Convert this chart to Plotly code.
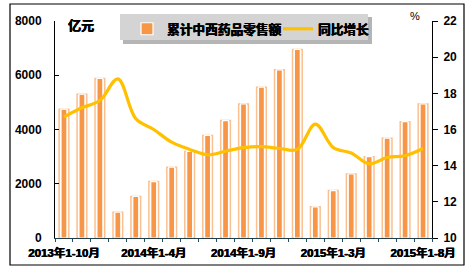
import plotly.graph_objects as go

categories = [
    "2013年1-10月", "2013年1-11月", "2013年1-12月",
    "2014年1-2月", "2014年1-3月", "2014年1-4月", "2014年1-5月", "2014年1-6月",
    "2014年1-7月", "2014年1-8月", "2014年1-9月", "2014年1-10月", "2014年1-11月",
    "2014年1-12月",
    "2015年1-2月", "2015年1-3月", "2015年1-4月", "2015年1-5月", "2015年1-6月",
    "2015年1-7月", "2015年1-8月",
]
retail_sales = [4750, 5300, 5880, 950, 1530, 2080, 2610, 3190, 3780, 4330, 4940,
                5560, 6200, 6950, 1150, 1750, 2360, 3000, 3680, 4290, 4940]
yoy_growth = [16.7, 17.2, 17.6, 18.8, 16.6, 16.0, 15.3, 14.9, 14.6, 14.8, 15.0,
              15.05, 14.95, 14.9, 16.3, 15.0, 14.7, 14.1, 14.45, 14.55, 14.95]
shown_labels = ["2013年1-10月", "2014年1-4月", "2014年1-9月", "2015年1-3月", "2015年1-8月"]
left_ticks = [0, 2000, 4000, 6000, 8000]
right_ticks = [10, 12, 14, 16, 18, 20, 22]

FONT = "Liberation Sans, Arial, Noto Sans CJK SC, sans-serif"
BOLD_SHADOW = "0.45px 0 0 black, -0.2px 0 0 black"
W, H = 474, 274
ML, MR, MT, MB = 55, 42, 21, 36
PW, PH = W - ML - MR, H - MT - MB


def px(x):
    return (x - ML) / PW


def py(y):
    return (H - MB - y) / PH


fig = go.Figure()
fig.add_trace(go.Bar(
    x=categories, y=retail_sales, width=0.54, showlegend=False,
    marker=dict(color="white", line=dict(color="#FAC090", width=1.5)),
    hoverinfo="skip",
))
fig.add_trace(go.Bar(
    x=categories, y=retail_sales, width=0.33, name="累计中西药品零售额",
    marker=dict(color="#F79646", line=dict(color="white", width=1.2)),
))
fig.add_trace(go.Scatter(
    x=categories, y=yoy_growth, yaxis="y2", mode="lines", name="同比增长",
    line=dict(color="#FFC000", width=3.2, shape="spline", smoothing=1.0),
))

ticktext = [c if c in shown_labels else "" for c in categories]

fig.update_layout(
    width=W, height=H,
    margin=dict(l=ML, r=MR, t=MT, b=MB),
    paper_bgcolor="white", plot_bgcolor="white",
    barmode="overlay",
    font=dict(family=FONT, size=12, color="black"),
    xaxis=dict(
        type="category", tickmode="array", tickvals=categories, ticktext=ticktext,
        tickson="boundaries", ticks="outside", ticklen=3, tickcolor="#1F4E5C",
        showline=True, linecolor="#1F3F4C", linewidth=1, showgrid=False,
        tickangle=0, ticklabelstandoff=4,
        tickfont=dict(family=FONT, size=11.5, weight="bold", shadow=BOLD_SHADOW),
    ),
    yaxis=dict(
        range=[0, 8000], tickmode="array", tickvals=left_ticks,
        ticks="inside", ticklen=4, tickcolor="black",
        showline=True, linecolor="black", linewidth=1, showgrid=False, zeroline=False,
        ticklabelstandoff=10,
        tickfont=dict(family=FONT, size=12, weight="bold"),
    ),
    yaxis2=dict(
        range=[10, 22], tickmode="array", tickvals=right_ticks, overlaying="y", side="right",
        ticks="outside", ticklen=5, tickcolor="black",
        showline=True, linecolor="black", linewidth=1, showgrid=False, zeroline=False,
        ticklabelstandoff=3,
        tickfont=dict(family=FONT, size=12, weight="bold"),
    ),
    legend=dict(
        orientation="h", x=px(127), y=py(14), xanchor="left", yanchor="top",
        bgcolor="rgba(0,0,0,0)", borderwidth=0,
        font=dict(family=FONT, size=12.7, weight="bold", shadow=BOLD_SHADOW),
        itemwidth=30, tracegroupgap=0, entrywidth=106, entrywidthmode="pixels",
    ),
    shapes=[
        dict(type="rect", xref="paper", yref="paper",
             x0=px(10), x1=px(464), y0=py(265), y1=py(4),
             line=dict(color="black", width=1.2), fillcolor="rgba(0,0,0,0)", layer="below"),
        dict(type="rect", xref="paper", yref="paper",
             x0=px(123), x1=px(372), y0=py(44), y1=py(17),
             line=dict(width=0), fillcolor="rgba(120,120,120,0.55)", layer="above"),
        dict(type="rect", xref="paper", yref="paper",
             x0=px(120), x1=px(368), y0=py(40), y1=py(14),
             line=dict(width=0), fillcolor="#D4D4D4", layer="above"),
    ],
    annotations=[
        dict(text="亿元", xref="paper", yref="paper", x=px(81), y=py(25),
             xanchor="center", yanchor="middle", showarrow=False,
             font=dict(family=FONT, size=13, weight="bold", shadow=BOLD_SHADOW)),
        dict(text="%", xref="paper", yref="paper", x=px(415), y=py(16),
             xanchor="center", yanchor="middle", showarrow=False,
             font=dict(family=FONT, size=11)),
    ],
)

fig.write_html("out.html")
